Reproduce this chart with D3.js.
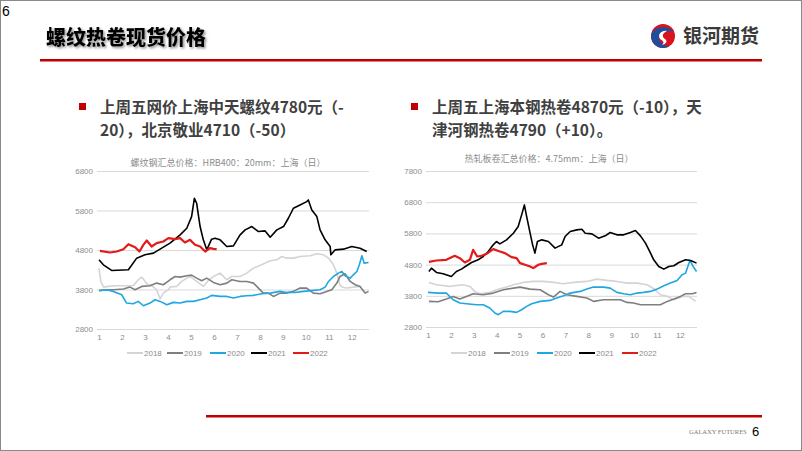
<!DOCTYPE html>
<html><head><meta charset="utf-8">
<script src="https://cdn.jsdelivr.net/npm/d3@7"></script>
<style>
html,body{margin:0;padding:0;background:#fff;}
svg{display:block;font-family:"Noto Sans CJK SC","Noto Sans",sans-serif;}
</style></head>
<body><svg id="c" width="802" height="451"></svg>
<script>
// ---------- DATA ----------
const years = ["2018","2019","2020","2021","2022"];
const monthTicks = [1,2,3,4,5,6,7,8,9,10,11,12];
const rebarTicks = [2800,3800,4800,5800,6800];
const coilTicks = [2800,3800,4800,5800,6800,7800];
const pageTitle = "螺纹热卷现货价格";
const leftChartTitle = "螺纹钢汇总价格：HRB400：20mm：上海（日）";
const rightChartTitle = "热轧板卷汇总价格：4.75mm：上海（日）";
const leftBullet = ["上周五网价上海中天螺纹4780元（-", "20），北京敬业4710（-50）"];
const rightBullet = ["上周五上海本钢热卷4870元（-10），天", "津河钢热卷4790（+10）。"];

// [month position, price]
const rebar2018 = [[1.0,4341],[1.08,4000],[1.2,3860],[1.4,3880],[1.77,3895],[2.3,3895],[2.5,3900],[2.71,4046],[2.85,4117],[2.95,4050],[3.08,3940],[3.29,3900],[3.51,3794],[3.66,3560],[3.8,3709],[4.02,3794],[4.09,3863],[4.38,3878],[4.6,4004],[4.82,4088],[4.96,4130],[5.25,4004],[5.54,3878],[5.76,4029],[5.98,4130],[6.27,4215],[6.56,4046],[6.78,4130],[7.14,4130],[7.43,4215],[7.72,4341],[8.08,4425],[8.45,4526],[8.74,4552],[8.95,4636],[9.17,4594],[9.46,4594],[9.75,4636],[10.19,4653],[10.48,4703],[10.77,4678],[10.99,4594],[11.2,4425],[11.35,4215],[11.49,3900],[11.64,3850],[11.78,3836],[12.07,3861],[12.36,3878]];
const rebar2019 = [[1.0,3777],[1.62,3794],[2.06,3811],[2.35,3861],[2.57,3794],[2.86,3878],[3.22,3895],[3.51,3962],[3.8,3920],[4.09,4046],[4.31,4130],[4.53,4113],[4.82,4147],[5.03,4164],[5.25,4088],[5.47,4021],[5.69,4088],[5.98,3979],[6.27,3920],[6.56,3962],[6.78,4046],[7.14,4004],[7.43,4004],[7.72,3962],[7.94,3836],[8.15,3709],[8.37,3709],[8.59,3625],[8.88,3709],[9.17,3709],[9.46,3752],[9.75,3836],[10.04,3836],[10.33,3709],[10.62,3693],[10.91,3752],[11.13,3794],[11.35,3962],[11.49,4130],[11.71,4198],[11.93,4004],[12.15,3920],[12.36,3878],[12.58,3709],[12.73,3752]];
const rebar2020 = [[1.0,3768],[1.33,3794],[1.62,3752],[1.99,3667],[2.2,3457],[2.49,3440],[2.71,3499],[2.93,3389],[3.22,3457],[3.44,3541],[3.66,3499],[3.95,3415],[4.24,3474],[4.53,3457],[4.82,3499],[5.11,3499],[5.4,3541],[5.69,3583],[5.9,3651],[6.27,3625],[6.56,3625],[6.85,3583],[7.14,3625],[7.43,3642],[7.72,3651],[8.08,3693],[8.45,3709],[8.88,3752],[9.17,3726],[9.53,3726],[9.9,3752],[10.33,3777],[10.62,3794],[10.84,3861],[10.99,4004],[11.2,4130],[11.42,4215],[11.57,4257],[11.71,4147],[11.93,4088],[12.07,4172],[12.22,4257],[12.33,4425],[12.44,4653],[12.54,4467],[12.73,4484]];
const rebar2021 = [[1.0,4552],[1.19,4425],[1.55,4282],[2.28,4300],[2.64,4594],[3.0,4678],[3.37,4720],[3.73,4846],[4.09,4973],[4.53,5183],[4.82,5352],[5.03,5646],[5.15,6109],[5.25,5983],[5.4,5394],[5.54,5057],[5.69,4804],[5.9,5074],[6.05,5100],[6.27,5057],[6.56,4888],[6.85,4905],[7.14,5183],[7.36,5310],[7.65,5394],[7.94,5267],[8.23,5284],[8.45,5124],[8.74,5310],[9.03,5394],[9.24,5604],[9.46,5857],[9.75,5941],[10.04,6025],[10.11,6067],[10.26,5815],[10.48,5646],[10.62,5310],[10.84,5057],[11.06,4888],[11.09,4678],[11.28,4804],[11.64,4821],[12.0,4888],[12.36,4846],[12.65,4762]];
const rebar2022 = [[1.04,4779],[1.48,4737],[1.77,4762],[2.06,4821],[2.28,4947],[2.57,4872],[2.76,4762],[2.93,4931],[3.08,5040],[3.29,4888],[3.51,4973],[3.8,5015],[4.02,5099],[4.31,5074],[4.53,5099],[4.74,4990],[4.96,5057],[5.18,4931],[5.4,4888],[5.62,4762],[5.83,4846],[5.98,4830],[6.12,4821]];

const coil2018 = [[1.04,4229],[1.37,4154],[1.95,4101],[2.53,4154],[2.83,4101],[3.04,3941],[3.26,3866],[3.7,3909],[3.99,3994],[4.43,4079],[4.73,4154],[5.16,4229],[5.6,4261],[6.04,4261],[6.48,4229],[6.92,4186],[7.36,4229],[7.94,4261],[8.38,4335],[8.82,4293],[9.25,4261],[9.69,4207],[10.13,4207],[10.57,4154],[10.93,3994],[11.15,3834],[11.45,3781],[11.74,3674],[12.1,3781],[12.39,3781],[12.69,3621]];
const coil2019 = [[1.04,3621],[1.44,3610],[1.8,3696],[2.1,3781],[2.39,3696],[2.68,3781],[2.97,3866],[3.41,3834],[3.85,3887],[4.29,3994],[4.73,4047],[5.02,4079],[5.46,4015],[5.9,3994],[6.26,3834],[6.48,3759],[6.77,3941],[7.06,3834],[7.5,3781],[7.94,3727],[8.23,3621],[8.67,3674],[9.11,3674],[9.4,3674],[9.69,3589],[9.98,3567],[10.28,3514],[10.86,3514],[11.15,3514],[11.45,3621],[11.74,3696],[12.03,3781],[12.25,3866],[12.54,3866],[12.73,3909]];
const coil2020 = [[1.0,3909],[1.44,3887],[1.8,3887],[2.1,3674],[2.39,3567],[2.68,3546],[3.12,3514],[3.41,3514],[3.7,3408],[3.92,3248],[4.07,3194],[4.29,3301],[4.58,3301],[4.87,3269],[5.09,3354],[5.31,3461],[5.53,3546],[5.9,3621],[6.33,3653],[6.62,3727],[6.92,3802],[7.21,3887],[7.65,3941],[7.94,4015],[8.23,4079],[8.67,4079],[8.96,4047],[9.25,3909],[9.55,3866],[9.84,3834],[10.13,3887],[10.42,3909],[10.72,3941],[11.01,4015],[11.3,4122],[11.59,4207],[11.88,4293],[12.1,4474],[12.25,4527],[12.35,4740],[12.44,4932],[12.58,4740],[12.73,4580]];
const coil2021 = [[1.04,4580],[1.15,4687],[1.37,4548],[1.66,4506],[2.02,4420],[2.24,4580],[2.46,4655],[2.68,4762],[2.9,4868],[3.19,4953],[3.41,5060],[3.63,5220],[3.85,5433],[3.99,5540],[4.14,5465],[4.43,5593],[4.73,5806],[4.94,6020],[5.09,6393],[5.21,6713],[5.31,6340],[5.46,5806],[5.57,5433],[5.67,5167],[5.78,5540],[5.97,5593],[6.26,5540],[6.55,5327],[6.84,5433],[6.99,5700],[7.21,5860],[7.5,5913],[7.72,5934],[7.87,5806],[8.16,5785],[8.45,5647],[8.74,5721],[8.96,5828],[9.25,5753],[9.55,5753],[9.84,5828],[10.06,5892],[10.28,5721],[10.5,5487],[10.72,5167],[10.86,4953],[11.08,4740],[11.3,4655],[11.52,4740],[11.74,4762],[11.96,4868],[12.25,4953],[12.47,4932],[12.73,4847]];
const coil2022 = [[1.04,4890],[1.37,4932],[1.8,4953],[2.17,5081],[2.39,5007],[2.61,4868],[2.83,4953],[2.97,5273],[3.15,5060],[3.34,5081],[3.56,5145],[3.85,5295],[4.14,5220],[4.36,5167],[4.65,5039],[4.87,5007],[5.02,4847],[5.24,4794],[5.46,4740],[5.6,4687],[5.82,4794],[5.97,4825],[6.19,4847]];

const seriesColors = ["#d4d4d4","#7f7f7f","#1ea7e0","#000000","#e31a1a"];
const seriesWidths = [1.6,1.6,1.6,1.6,2.2];

// ---------- DRAW ----------
const svg = d3.select("#c");
svg.append("rect").attr("x",0.5).attr("y",0.5).attr("width",801).attr("height",450)
  .attr("fill","#fff").attr("stroke","#8a8a8a").attr("stroke-width",1);

svg.append("text").attr("x",2).attr("y",16).attr("font-family","Arial, Liberation Sans, sans-serif")
  .attr("font-size",14).attr("fill","#000").text("6");

const defs = svg.append("defs");
const f = defs.append("filter").attr("id","sh").attr("x","-10%").attr("y","-20%").attr("width","130%").attr("height","160%");
f.append("feDropShadow").attr("dx",1.5).attr("dy",1.5).attr("stdDeviation",1).attr("flood-color","#777").attr("flood-opacity",0.8);

svg.append("text").attr("x",46).attr("y",45).attr("font-size",20).attr("font-weight",900)
  .attr("fill","#000").attr("filter","url(#sh)").text(pageTitle);

// logo
const lg = svg.append("g").attr("transform","translate(663,36)");
lg.append("circle").attr("r",12).attr("fill","#d8141e");
lg.append("path").attr("d","M-12,0 A12,12 0 0,0 6.5,10 C-2,10 -6.5,3 -2,-1 C2,-5.5 10,-5.5 11,-4.5 C6.5,-10 -6.5,-11 -11,-3.5 Z").attr("fill","#1f4e9c");
lg.append("path").attr("d","M-3,3 C-6,-2 -1,-6 4,-5 C0,-3 -2,0 2,3 C5,5 3,8 -1,9 C2,6 0,5 -3,3 Z").attr("fill","#fff");
svg.append("text").attr("x",683).attr("y",43).attr("font-size",19).attr("font-weight",700)
  .attr("fill","#3a3a3a").text("银河期货");

svg.append("rect").attr("x",40).attr("y",59).attr("width",722).attr("height",2.5).attr("fill","#c00000");

// bullets
function bullet(x, tx, lines){
  svg.append("rect").attr("x",x).attr("y",103).attr("width",7).attr("height",7).attr("fill","#c00000");
  lines.forEach((t,i)=>{
    svg.append("text").attr("x",tx).attr("y",113+i*23).attr("font-size",15.5).attr("font-weight",700)
      .attr("fill","#404040").text(t);
  });
}
bullet(79,100,leftBullet);
bullet(411,432,rightBullet);

function chart(cfg){
  const x = d3.scaleLinear().domain([1,12.75]).range([cfg.x0, cfg.x1]);
  const y = d3.scaleLinear().domain(cfg.yDomain).range([cfg.yBottom, cfg.yTop]);
  const g = svg.append("g");
  const gy = g.append("g").attr("transform",`translate(${cfg.gx0},0)`)
    .call(d3.axisLeft(y).tickValues(cfg.yTicks).tickSize(-(cfg.x1 - cfg.gx0)).tickPadding(4).tickFormat(d3.format("d")));
  gy.select(".domain").remove();
  gy.selectAll("line").attr("stroke","#d9d9d9").attr("stroke-width",1);
  gy.selectAll("text").attr("fill","#8c8c8c").attr("font-size",8).attr("font-family","Liberation Sans, Arial, sans-serif");
  const gx = g.append("g").attr("transform",`translate(0,${cfg.yBottom})`)
    .call(d3.axisBottom(x).tickValues(monthTicks).tickSize(0).tickPadding(5).tickFormat(d3.format("d")));
  gx.select(".domain").remove();
  gx.selectAll("text").attr("fill","#8c8c8c").attr("font-size",8).attr("font-family","Liberation Sans, Arial, sans-serif");
  g.append("text").attr("x",cfg.titleX).attr("y",cfg.titleY).attr("text-anchor","middle")
    .attr("font-size",9).attr("fill","#8c8c8c").text(cfg.title);
  const line = d3.line().x(d=>x(d[0])).y(d=>y(d[1]));
  cfg.series.forEach((s,i)=>{
    g.append("path").datum(s).attr("d",line).attr("fill","none")
      .attr("stroke",seriesColors[i]).attr("stroke-width",seriesWidths[i]).attr("stroke-linejoin","round");
  });
  // legend
  cfg.legendX.forEach((lx,i)=>{
    g.append("line").attr("x1",lx).attr("x2",lx+16).attr("y1",cfg.legendY).attr("y2",cfg.legendY)
      .attr("stroke",seriesColors[i]).attr("stroke-width",2);
    g.append("text").attr("x",lx+17).attr("y",cfg.legendY+3).attr("font-size",8)
      .attr("font-family","Liberation Sans, Arial, sans-serif").attr("fill","#8c8c8c").text(years[i]);
  });
}

chart({x0:99,x1:369,gx0:97,yDomain:[2800,6800],yBottom:329,yTop:171,yTicks:rebarTicks,
  title:leftChartTitle,titleX:228,titleY:166,
  series:[rebar2018,rebar2019,rebar2020,rebar2021,rebar2022],
  legendX:[127,167,210,251,293],legendY:353});
chart({x0:428,x1:697,gx0:426,yDomain:[2800,7800],yBottom:327,yTop:171,yTicks:coilTicks,
  title:rightChartTitle,titleX:549,titleY:162,
  series:[coil2018,coil2019,coil2020,coil2021,coil2022],
  legendX:[451,494,537,579,622],legendY:353});

// footer
svg.append("rect").attr("x",206).attr("y",415).attr("width",556).attr("height",2.5).attr("fill","#c00000");
svg.append("text").attr("x",689).attr("y",434).attr("font-size",6.5).attr("fill","#777")
  .attr("font-family","Liberation Serif, DejaVu Serif, serif").text("GALAXY FUTURES");
svg.append("text").attr("x",752).attr("y",436).attr("font-size",13).attr("fill","#000")
  .attr("font-family","Liberation Sans, Arial, sans-serif").text("6");
</script></body></html>
